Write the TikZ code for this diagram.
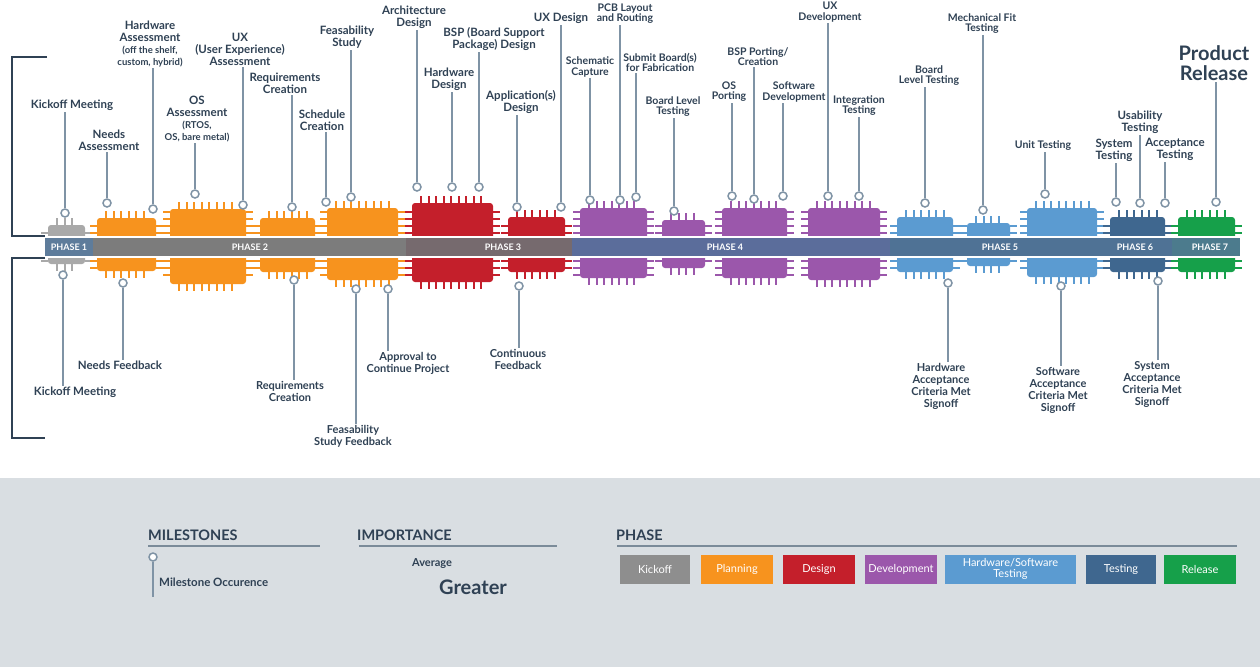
\documentclass[tikz,border=0pt]{standalone}
\usepackage{fontspec}
\setmainfont{Lato}
\definecolor{ink}{HTML}{2F4154}
\definecolor{msline}{HTML}{7F93A5}
\definecolor{panel}{HTML}{D9DEE2}
\definecolor{rulec}{HTML}{7B8B99}
\definecolor{chipgrey}{HTML}{A9A9A9}
\definecolor{kickgrey}{HTML}{8E8E8E}
\definecolor{orange}{HTML}{F7931E}
\definecolor{red}{HTML}{C41F2B}
\definecolor{purple}{HTML}{9B57AB}
\definecolor{lblue}{HTML}{5B9BD1}
\definecolor{dblue}{HTML}{3F678F}
\definecolor{green}{HTML}{16A04A}
\definecolor{bandone}{HTML}{5E7C9B}
\definecolor{bandgrey}{HTML}{7C7C7C}
\definecolor{bandred}{HTML}{766A6E}
\definecolor{bandpurple}{HTML}{5B6D9B}
\definecolor{bandblue}{HTML}{4F7295}
\definecolor{bandgreen}{HTML}{4C7B8D}
\newcommand\tn[1]{{\fontsize{9.5}{10}\selectfont #1}}
\newcommand\chip[5]{%
  \fill[#5, rounded corners=3pt] (#1,#3) rectangle (#2,#4);
  \pgfmathsetmacro\pinfirst{#1+9}
  \pgfmathsetmacro\pinnext{#1+16.5}
  \pgfmathsetmacro\pinlast{#2-8}
  \foreach \px in {\pinfirst,\pinnext,...,\pinlast}{
    \draw[#5, line width=2pt] (\px,#3) -- ++(0,-7);
    \draw[#5, line width=2pt] (\px,#4) -- ++(0,7);
  }
  \foreach \py in {233,226,219,212,205}{
    \ifdim\py pt>\numexpr#3+2\relax pt
      \draw[#5, line width=2pt] (#1,\py) -- ++(-7,0) (#2,\py) -- ++(7,0);
    \fi
  }
  \foreach \py in {261,268,275,282}{
    \ifdim\py pt<\numexpr#4-2\relax pt
      \draw[#5, line width=2pt] (#1,\py) -- ++(-7,0) (#2,\py) -- ++(7,0);
    \fi
  }
}
\begin{document}
\begin{tikzpicture}[x=1pt, y=-1pt,
    ms/.style={circle, draw=msline, fill=white, line width=1.5pt, minimum size=8pt, inner sep=0pt},
    lbl/.style={font=\bfseries\fontsize{11.5}{12}\selectfont, text=ink, align=center, inner sep=1pt},
    lbls/.style={lbl, font=\bfseries\fontsize{10.5}{10.5}\selectfont},
    lblm/.style={lbl, font=\bfseries\fontsize{11}{12}\selectfont},
    link/.style={draw=msline, line width=1.5pt},
    phase/.style={font=\bfseries\fontsize{9}{10}\selectfont, text=white, inner sep=0pt},
    head/.style={font=\bfseries\fontsize{14.5}{16}\selectfont, text=ink, inner sep=0pt},
    rule/.style={draw=rulec, line width=1.5pt},
    key/.style={minimum height=29pt, inner sep=0pt, text=white, align=center,
                font=\fontsize{11}{11}\selectfont}]
\useasboundingbox (0,0) rectangle (1260,667);
\fill[white] (0,0) rectangle (1260,478);
\fill[panel] (0,478) rectangle (1260,667);

\draw[ink, line width=2.5pt] (47,57) -- (12,57) -- (12,236) -- (45,236);
\draw[ink, line width=2.5pt] (45,258) -- (12,258) -- (12,438) -- (45,438);

\chip{48}{85}{225}{264}{chipgrey}
\chip{97}{156}{218}{271}{orange}
\chip{170}{246}{209}{284}{orange}
\chip{260}{315}{218}{272}{orange}
\chip{327}{398}{208}{280}{orange}
\chip{412}{493}{203}{282}{red}
\chip{508}{565}{217}{272}{red}
\chip{580}{647}{208}{278}{purple}
\chip{662}{705}{220}{268}{purple}
\chip{722}{787}{208}{278}{purple}
\chip{808}{880}{208}{280}{purple}
\chip{897}{953}{217}{272}{lblue}
\chip{967}{1010}{223}{266}{lblue}
\chip{1027}{1097}{208}{277}{lblue}
\chip{1110}{1165}{217}{272}{dblue}
\chip{1178}{1235}{217}{272}{green}

\fill[bandone] (45,237) rectangle (93,257);
\fill[bandgrey] (93,237) rectangle (406,257);
\fill[bandred] (406,237) rectangle (572,257);
\fill[bandpurple] (572,237) rectangle (890,257);
\fill[bandblue] (890,237) rectangle (1172,257);
\fill[bandgreen] (1172,237) rectangle (1240,257);
\draw[white, line width=2pt] (45,237) -- (1240,237) (45,257) -- (1240,257);

\node[phase] (p1) at (69,247) {PHASE 1};
\node[phase] (p2) at (250,247) {PHASE 2};
\node[phase] (p3) at (503,247) {PHASE 3};
\node[phase] (p4) at (725,247) {PHASE 4};
\node[phase] (p5) at (1000,247) {PHASE 5};
\node[phase] (p6) at (1135,247) {PHASE 6};
\node[phase] (p7) at (1210,247) {PHASE 7};

\node[ms] (t1) at (65,213) {};
\node[lbl, anchor=south] (lt1) at (72,112) {Kickoff Meeting};
\node[ms] (t2) at (107,203) {};
\node[lbl, anchor=south] (lt2) at (109,152) {Needs\\Assessment};
\node[ms] (t3) at (153,209) {};
\node[lbl, anchor=south] (lt3) at (150,68) {Hardware\\Assessment\\\tn{(off the shelf,}\\\tn{custom, hybrid)}};
\node[ms] (t4) at (195,194) {};
\node[lbl, anchor=south] (lt4) at (197,143) {OS\\Assessment\\\tn{(RTOS,}\\\tn{OS, bare metal)}};
\node[ms] (t5) at (243,205) {};
\node[lbl, anchor=south] (lt5) at (240,67) {UX\\(User Experience)\\Assessment};
\node[ms] (t6) at (292,207) {};
\node[lbl, anchor=south] (lt6) at (285,95) {Requirements\\Creation};
\node[ms] (t7) at (326,202) {};
\node[lbl, anchor=south] (lt7) at (322,132) {Schedule\\Creation};
\node[ms] (t8) at (351,197) {};
\node[lbl, anchor=south] (lt8) at (347,50) {Feasability\\Study};
\node[ms] (t9) at (417,187) {};
\node[lbl, anchor=south] (lt9) at (414,30) {Architecture\\Design};
\node[ms] (t10) at (452,187) {};
\node[lbl, anchor=south] (lt10) at (449,92) {Hardware\\Design};
\node[ms] (t11) at (479,187) {};
\node[lbl, anchor=south] (lt11) at (494,52) {BSP (Board Support\\Package) Design};
\node[ms] (t12) at (517,207) {};
\node[lbl, anchor=south] (lt12) at (521,115) {Application(s)\\Design};
\node[ms] (t13) at (561,207) {};
\node[lbl, anchor=south] (lt13) at (561,25) {UX Design};
\node[ms] (t14) at (590,200) {};
\node[lbls, anchor=south] (lt14) at (590,78) {Schematic\\Capture};
\node[ms] (t15) at (620,200) {};
\node[lbls, anchor=south] (lt15) at (625,25) {PCB Layout\\and Routing};
\node[ms] (t16) at (636,197) {};
\node[lbls, anchor=south] (lt16) at (660,73) {Submit Board(s)\\for Fabrication};
\node[ms] (t17) at (674,211) {};
\node[lbls, anchor=south] (lt17) at (673,118) {Board Level\\Testing};
\node[ms] (t18) at (732,196) {};
\node[lbls, anchor=south] (lt18) at (729,103) {OS\\Porting};
\node[ms] (t19) at (754,199) {};
\node[lbls, anchor=south] (lt19) at (758,67) {BSP Porting/\\Creation};
\node[ms] (t20) at (783,196) {};
\node[lbls, anchor=south] (lt20) at (794,103) {Software\\Development};
\node[ms] (t21) at (828,196) {};
\node[lbls, anchor=south] (lt21) at (830,23) {UX\\Development};
\node[ms] (t22) at (859,196) {};
\node[lbls, anchor=south] (lt22) at (859,117) {Integration\\Testing};
\node[ms] (t23) at (925,203) {};
\node[lbls, anchor=south] (lt23) at (929,87) {Board\\Level Testing};
\node[ms] (t24) at (983,210) {};
\node[lbls, anchor=south] (lt24) at (982,35) {Mechanical Fit\\Testing};
\node[ms] (t25) at (1045,194) {};
\node[lbls, anchor=south] (lt25) at (1043,152) {Unit Testing};
\node[ms] (t26) at (1116,202) {};
\node[lbl, anchor=south] (lt26) at (1114,163) {System\\Testing};
\node[ms] (t27) at (1140,203) {};
\node[lbl, anchor=south] (lt27) at (1140,135) {Usability\\Testing};
\node[ms] (t28) at (1165,203) {};
\node[lbl, anchor=south] (lt28) at (1175,162) {Acceptance\\Testing};
\node[ms] (t29) at (1216,202) {};
\node[lbl, anchor=south, font=\bfseries\fontsize{20}{20}\selectfont] (lt29) at (1214,82) {Product\\Release};
\foreach \m in {1,...,29}
  \draw[link] (t\m) -- (t\m |- lt\m.south);

\node[ms] (b1) at (63,275) {};
\node[lbl, anchor=north] (lb1) at (75,386) {Kickoff Meeting};
\node[ms] (b2) at (123,283) {};
\node[lbl, anchor=north] (lb2) at (120,360) {Needs Feedback};
\node[ms] (b3) at (294,280) {};
\node[lblm, anchor=north] (lb3) at (290,380) {Requirements\\Creation};
\node[ms] (b4) at (356,289) {};
\node[lblm, anchor=north] (lb4) at (353,424) {Feasability\\Study Feedback};
\node[ms] (b5) at (388,289) {};
\node[lblm, anchor=north] (lb5) at (408,351) {Approval to\\Continue Project};
\node[ms] (b6) at (519,286) {};
\node[lblm, anchor=north] (lb6) at (518,348) {Continuous\\Feedback};
\node[ms] (b7) at (948,283) {};
\node[lblm, anchor=north] (lb7) at (941,362) {Hardware\\Acceptance\\Criteria Met\\Signoff};
\node[ms] (b8) at (1061,286) {};
\node[lblm, anchor=north] (lb8) at (1058,366) {Software\\Acceptance\\Criteria Met\\Signoff};
\node[ms] (b9) at (1158,281) {};
\node[lblm, anchor=north] (lb9) at (1152,360) {System\\Acceptance\\Criteria Met\\Signoff};
\foreach \m in {1,...,9}
  \draw[link] (b\m) -- (b\m |- lb\m.north);

\node[head, anchor=base west] (hmile) at (148,540) {MILESTONES};
\draw[rule] (148,546) -- (320,546);
\node[ms] (keyms) at (153,557) {};
\coordinate (keyend) at (153,597);
\draw[link] (keyms) -- (keyend);
\node[lbl, anchor=west, font=\bfseries\fontsize{11.5}{12}\selectfont] (kmile) at (158,582) {Milestone Occurence};

\node[head, anchor=base west] (himp) at (357,540) {IMPORTANCE};
\draw[rule] (359,546) -- (557,546);
\node[lbl, font=\bfseries\fontsize{11}{12}\selectfont] (avg) at (432,564) {Average};
\node[lbl, font=\bfseries\fontsize{20}{22}\selectfont] (grt) at (473,587) {Greater};

\node[head, anchor=base west] (hphase) at (616,540) {PHASE};
\draw[rule] (617,546) -- (1237,546);
\node[key, fill=kickgrey, minimum width=70pt] (kkick) at (655,569) {Kickoff};
\node[key, fill=orange, minimum width=72pt] (kplan) at (737,569) {Planning};
\node[key, fill=red, minimum width=72pt] (kdes) at (819,569) {Design};
\node[key, fill=purple, minimum width=72pt] (kdev) at (901,569) {Development};
\node[key, fill=lblue, minimum width=131pt] (khw) at (1010.5,569) {Hardware/Software\\Testing};
\node[key, fill=dblue, minimum width=70pt] (ktest) at (1121,569) {Testing};
\node[key, fill=green, minimum width=72pt] (krel) at (1200,569) {Release};
\end{tikzpicture}
\end{document}
